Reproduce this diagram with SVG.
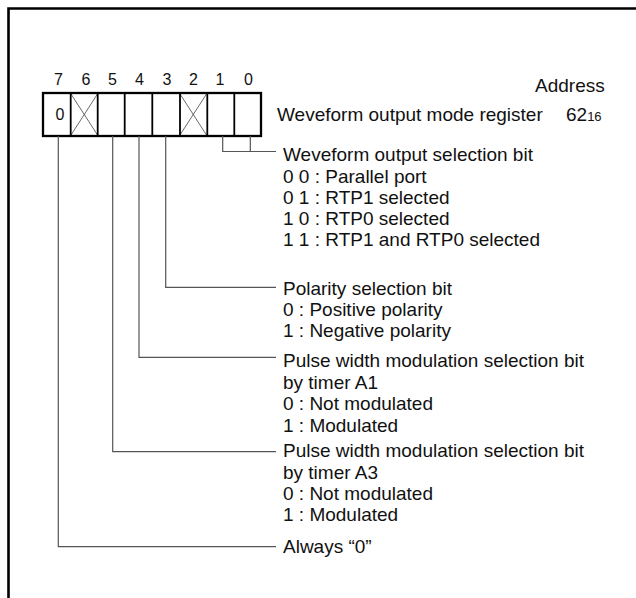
<svg xmlns="http://www.w3.org/2000/svg" width="636" height="598" viewBox="0 0 636 598">
<style>
text{font-family:"Liberation Sans",Arial,sans-serif;fill:#111}
.t{font-size:19px}
.b{font-size:16px;text-anchor:middle}
.c{fill:none;stroke:#555;stroke-width:1.2}
.x{stroke:#444;stroke-width:0.8}
.d{stroke:#000;stroke-width:1.8}
</style>
<rect width="636" height="598" fill="#fff"/>
<g id="frame">
<path d="M8.5 598 V8.5 H636" fill="none" stroke="#000" stroke-width="2.6"/>
</g>
<g id="register">
<text class="b" x="58.5" y="85">7</text>
<text class="b" x="86" y="85">6</text>
<text class="b" x="112.5" y="85">5</text>
<text class="b" x="139.5" y="85">4</text>
<text class="b" x="167" y="85">3</text>
<text class="b" x="193.5" y="85">2</text>
<text class="b" x="220" y="85">1</text>
<text class="b" x="248.5" y="85">0</text>
<line class="x" x1="71" y1="94" x2="97.5" y2="135"/>
<line class="x" x1="97.5" y1="94" x2="71" y2="135"/>
<line class="x" x1="180" y1="94" x2="206.5" y2="135"/>
<line class="x" x1="206.5" y1="94" x2="180" y2="135"/>
<line class="d" x1="70.7" y1="93" x2="70.7" y2="136"/>
<line class="d" x1="97.7" y1="93" x2="97.7" y2="136"/>
<line class="d" x1="124.7" y1="93" x2="124.7" y2="136"/>
<line class="d" x1="152.3" y1="93" x2="152.3" y2="136"/>
<line class="d" x1="180" y1="93" x2="180" y2="136"/>
<line class="d" x1="207.3" y1="93" x2="207.3" y2="136"/>
<line class="d" x1="234.3" y1="93" x2="234.3" y2="136"/>
<rect x="43" y="93" width="218" height="43" fill="none" stroke="#000" stroke-width="2.3"/>
<text class="b" x="60" y="120">0</text>
<text class="t" x="277" y="121">Weveform output mode register</text>
<text class="t" x="535" y="92">Address</text>
<text class="t" x="566" y="121">62<tspan font-size="13">16</tspan></text>
</g>
<g id="connectors">
<path class="c" d="M222.7 136 V151.5 H276 M250.3 136 V151.5"/>
<path class="c" d="M165.7 136 V287.3 H276"/>
<path class="c" d="M139 136 V357.3 H276"/>
<path class="c" d="M112.7 136 V451.7 H276"/>
<path class="c" d="M58.3 136 V546.7 H276"/>
</g>
<g id="bits10">
<text class="t" x="283" y="161">Weveform output selection bit</text>
<text class="t" x="283" y="182.5">0 0 : Parallel port</text>
<text class="t" x="283" y="204">0 1 : RTP1 selected</text>
<text class="t" x="283" y="225">1 0 : RTP0 selected</text>
<text class="t" x="283" y="246">1 1 : RTP1 and RTP0 selected</text>
</g>
<g id="bit3">
<text class="t" x="283" y="295">Polarity selection bit</text>
<text class="t" x="283" y="316">0 : Positive polarity</text>
<text class="t" x="283" y="337">1 : Negative polarity</text>
</g>
<g id="bit4">
<text class="t" x="283" y="367">Pulse width modulation selection bit</text>
<text class="t" x="283" y="388.5">by timer A1</text>
<text class="t" x="283" y="410">0 : Not modulated</text>
<text class="t" x="283" y="431.5">1 : Modulated</text>
</g>
<g id="bit5">
<text class="t" x="283" y="457">Pulse width modulation selection bit</text>
<text class="t" x="283" y="478.5">by timer A3</text>
<text class="t" x="283" y="500">0 : Not modulated</text>
<text class="t" x="283" y="521">1 : Modulated</text>
</g>
<g id="bit7">
<text class="t" x="283" y="553">Always “0”</text>
</g>
</svg>
